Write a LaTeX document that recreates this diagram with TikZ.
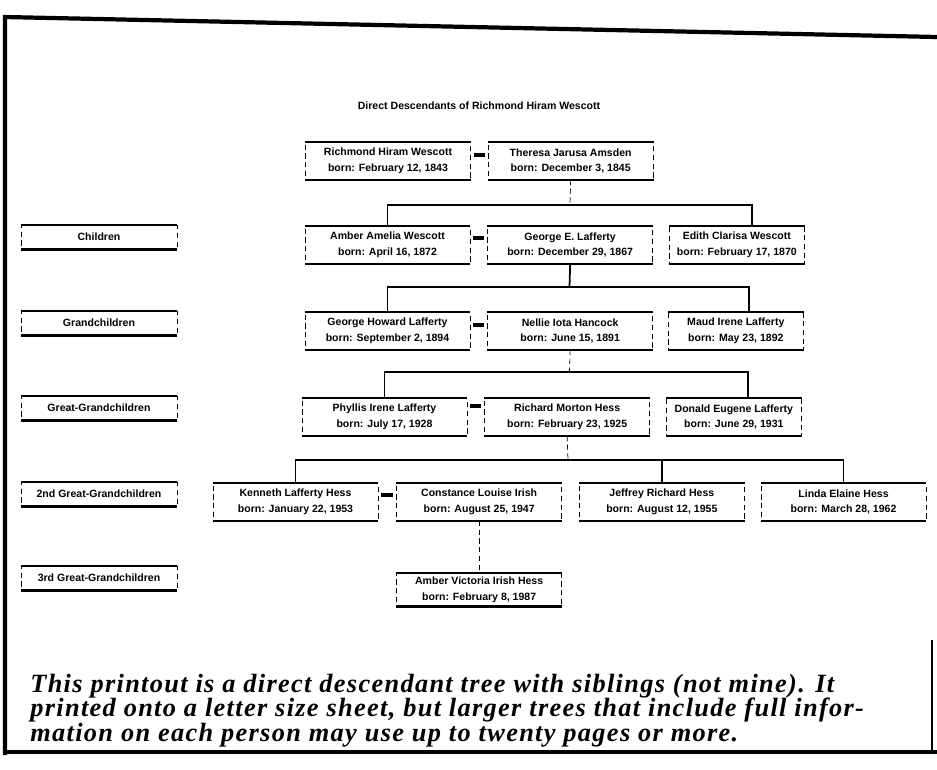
\documentclass[tikz,border=0pt]{standalone}
\usepackage{fontspec}
\setmainfont{Liberation Serif}
\newfontfamily\printfont{Liberation Sans}
\newfontfamily\notefont[LetterSpace=5]{Liberation Serif}
\usetikzlibrary{positioning}

\begin{document}
\begin{tikzpicture}[
    x=0.02cm, y=-0.02cm,
    node distance=0.34cm and 0.34cm,
    person/.style={rectangle, draw=black, densely dashed, thin, minimum width=3.3cm, minimum height=0.74cm, inner sep=1pt, align=center, font=\printfont\bfseries\fontsize{6}{9}\selectfont},
    narrow/.style={person, minimum width=2.7cm},
    gen/.style={person, minimum width=3.12cm, minimum height=0.48cm},
    edge/.style={line width=1.3pt},
    spouse/.style={line width=1.8pt, shorten >=0.06cm, shorten <=0.06cm},
    bar/.style={line width=1pt},
    stem/.style={thin, densely dashed},
    frame/.style={line width=2.4pt}
]
\useasboundingbox (0,0) rectangle (937,769);

% Page frame
\draw[frame] (5,755) -- (5,17) -- (937,37);
\draw[frame] (5,752) -- (937,752);
\draw[line width=1.5pt] (932,640) -- (932,752);

% Title
\node (title) at (479,106) [font=\printfont\bfseries\fontsize{6}{9}\selectfont] {Direct Descendants of Richmond Hiram Wescott};

% Generation labels
\node (children) at (99,237) [gen] {Children};
\node (grand) at (99,323) [gen] {Grandchildren};
\node (great) at (99,408) [gen] {Great-Grandchildren};
\node (great2) at (99,494) [gen] {2nd Great-Grandchildren};
\node (great3) at (99,578) [gen] {3rd Great-Grandchildren};

% Row 1
\node (richmond) at (388,161) [person] {Richmond Hiram Wescott\\born: February 12, 1843};
\node (theresa) [person, right=of richmond] {Theresa Jarusa Amsden\\born: December 3, 1845};

% Row 2
\node (amber) at (387.5,245) [person] {Amber Amelia Wescott\\born: April 16, 1872};
\node (george) [person, right=of amber] {George E. Lafferty\\born: December 29, 1867};
\node (edith) [narrow, right=0.32cm of george] {Edith Clarisa Wescott\\born: February 17, 1870};

% Row 3
\node (howard) at (387.5,331) [person] {George Howard Lafferty\\born: September 2, 1894};
\node (nellie) [person, right=of howard] {Nellie Iota Hancock\\born: June 15, 1891};
\node (maud) [narrow, right=0.3cm of nellie] {Maud Irene Lafferty\\born: May 23, 1892};

% Row 4
\node (phyllis) at (384.5,417) [person] {Phyllis Irene Lafferty\\born: July 17, 1928};
\node (richard) [person, right=of phyllis] {Richard Morton Hess\\born: February 23, 1925};
\node (donald) [narrow, right=0.32cm of richard] {Donald Eugene Lafferty\\born: June 29, 1931};

% Row 5
\node (kenneth) at (295.5,502) [person] {Kenneth Lafferty Hess\\born: January 22, 1953};
\node (constance) [person, right=0.36cm of kenneth] {Constance Louise Irish\\born: August 25, 1947};
\node (jeffrey) [person, right=of constance] {Jeffrey Richard Hess\\born: August 12, 1955};
\node (linda) [person, right=0.32cm of jeffrey] {Linda Elaine Hess\\born: March 28, 1962};

% Row 6
\node (victoria) [person, minimum height=0.66cm, below=1.04cm of constance] {Amber Victoria Irish Hess\\born: February 8, 1987};

% Heavy top and bottom edges of the boxes
\foreach \n in {children, grand, great, great2, great3, richmond, theresa, amber, george, edith, howard, nellie, maud, phyllis, richard, donald, kenneth, constance, jeffrey, linda, victoria}
    \draw[edge] (\n.north west) -- (\n.north east) (\n.south west) -- (\n.south east);

% Marriages
\draw[spouse] ([yshift=0.12cm]richmond.east) -- ([yshift=0.12cm]theresa.west);
\draw[spouse] ([yshift=0.14cm]amber.east) -- ([yshift=0.14cm]george.west);
\draw[spouse] ([yshift=0.12cm]howard.east) -- ([yshift=0.12cm]nellie.west);
\draw[spouse] ([yshift=0.22cm]phyllis.east) -- ([yshift=0.22cm]richard.west);
\draw[spouse] ([yshift=0.14cm]kenneth.east) -- ([yshift=0.14cm]constance.west);

% Family branches
\coordinate (fam1) at (570,205);
\draw[stem] (theresa.south) -- (fam1);
\draw[bar] (fam1) -| (amber.north);
\draw[bar] (fam1) -| ([xshift=0.31cm]edith.north);

\coordinate (fam2) at (569.5,287);
\draw[bar] (george.south) -- (fam2);
\draw[bar] (fam2) -| (howard.north);
\draw[bar] (fam2) -| ([xshift=0.27cm]maud.north);

\coordinate (fam3) at (569.5,372);
\draw[stem] (nellie.south) -- (fam3);
\draw[bar] (fam3) -| (phyllis.north);
\draw[bar] (fam3) -| ([xshift=0.29cm]donald.north);

\coordinate (fam4) at (568,460);
\draw[stem] (richard.south) -- (fam4);
\draw[bar] (fam4) -| (kenneth.north);
\draw[bar] (fam4) -| (jeffrey.north);
\draw[bar] (fam4) -| (linda.north);

\draw[stem] (constance.south) -- (victoria.north);

% Caption
\node (caption) at (30,674) [anchor=north west, align=left, inner sep=0pt, font=\notefont\bfseries\itshape\fontsize{15}{13.8}\selectfont] {This printout is a direct descendant tree with siblings (not mine). It\\printed onto a letter size sheet, but larger trees that include full infor-\\mation on each person may use up to twenty pages or more.};

\end{tikzpicture}
\end{document}
